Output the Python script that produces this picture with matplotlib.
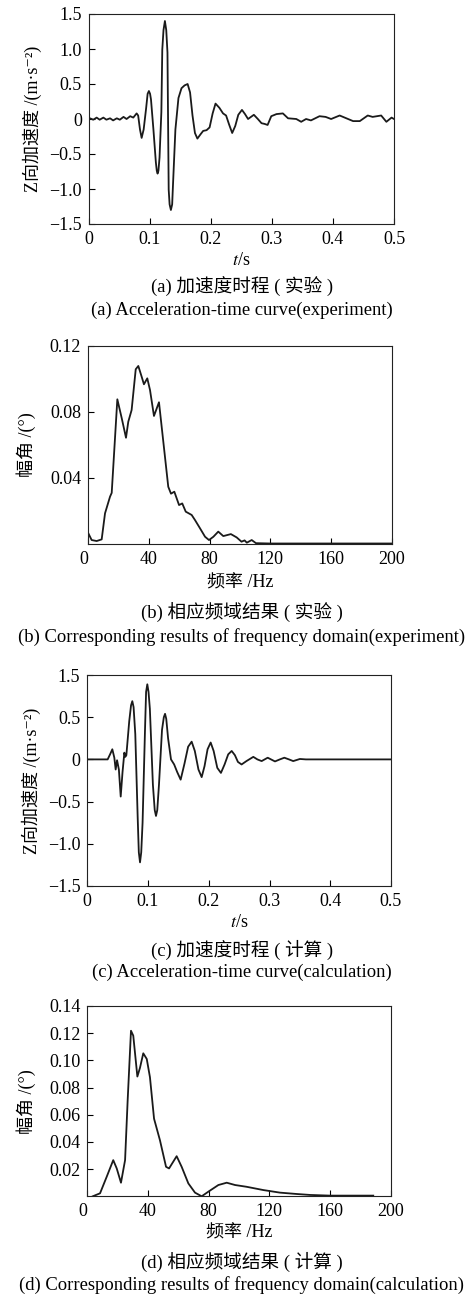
import matplotlib
matplotlib.use("Agg")
import matplotlib.pyplot as plt

plt.rcParams['font.family'] = ['Liberation Serif', 'Noto Sans CJK SC', 'DejaVu Sans']
plt.rcParams['mathtext.fontset'] = 'stix'
plt.rcParams['font.size'] = 13
plt.rcParams['axes.linewidth'] = 0.8

# (a) 加速度时程（实验）
t_exp = [0.0, 0.002, 0.0075, 0.013, 0.018, 0.024, 0.029, 0.035, 0.040, 0.046,
         0.051, 0.057, 0.062, 0.068, 0.073, 0.0785, 0.081, 0.084, 0.0867, 0.090,
         0.094, 0.0965, 0.0986, 0.1005, 0.102, 0.106, 0.110, 0.1115, 0.1128, 0.1142,
         0.116, 0.119, 0.1205, 0.1225, 0.1248, 0.127, 0.129, 0.131, 0.1325, 0.1346,
         0.1367, 0.138, 0.142, 0.147, 0.152, 0.157, 0.162, 0.166, 0.170, 0.174,
         0.178, 0.183, 0.1875, 0.193, 0.198, 0.203, 0.2077, 0.214, 0.220, 0.225,
         0.230, 0.235, 0.240, 0.245, 0.251, 0.256, 0.261, 0.2705, 0.277, 0.283,
         0.288, 0.293, 0.299, 0.3075, 0.318, 0.3265, 0.34, 0.348, 0.356, 0.364,
         0.378, 0.388, 0.397, 0.411, 0.422, 0.433, 0.444, 0.457, 0.465, 0.479,
         0.4875, 0.496, 0.5]
acc_exp = [0.0, 0.01, -0.01, 0.02, -0.01, 0.02, -0.01, 0.01, -0.02, 0.01,
           -0.01, 0.03, 0.0, 0.04, 0.02, 0.08, 0.05, -0.15, -0.27, -0.15,
           0.15, 0.36, 0.40, 0.36, 0.28, -0.15, -0.62, -0.74, -0.78, -0.74,
           -0.55, 0.10, 0.99, 1.27, 1.40, 1.27, 0.95, -1.01, -1.22, -1.30,
           -1.22, -0.95, -0.15, 0.30, 0.44, 0.48, 0.50, 0.38, 0.05, -0.20,
           -0.28, -0.22, -0.17, -0.16, -0.12, 0.08, 0.22, 0.16, 0.08, 0.05,
           -0.08, -0.20, -0.10, 0.06, 0.13, 0.07, 0.0, 0.06, 0.0, -0.06,
           -0.07, -0.085, 0.04, 0.07, 0.08, 0.01, 0.0, -0.04, 0.0, -0.02,
           0.04, 0.03, 0.0, 0.05, 0.01, -0.03, -0.03, 0.05, 0.03, 0.05,
           -0.04, 0.02, 0.0]

# (b) 相应频域结果（实验）
f_exp = [0, 2.4, 5.7, 9, 11.2, 14.5, 15.6, 19.3, 22.2, 25, 26.5, 28.7, 31.4, 33.1,
         35.3, 36.8, 39, 40.8, 43.4, 46.7, 52.8, 54.6, 56.8, 59.9, 62, 64.3, 68.2,
         70.4, 73.7, 77, 79.6, 82.5, 85.7, 89, 94, 97.8, 101, 103, 104.5, 107.7,
         110.5, 120, 140, 160, 180, 200]
amp_exp = [0.0069, 0.0024, 0.0018, 0.0028, 0.0186, 0.0287, 0.031, 0.0877, 0.0762,
           0.0644, 0.0741, 0.0812, 0.1059, 0.1079, 0.1014, 0.0968, 0.1004, 0.0933,
           0.0776, 0.0859, 0.0347, 0.0305, 0.0317, 0.0236, 0.0246, 0.0196, 0.0176,
           0.0145, 0.0095, 0.0044, 0.0024, 0.0044, 0.0075, 0.0048, 0.006, 0.004,
           0.0014, 0.0022, 0.0008, 0.0024, 0.0005, 0.0003, 0.0003, 0.0003, 0.0003,
           0.0003]

# (c) 加速度时程（计算）
t_cal = [0.0, 0.0335, 0.0375, 0.0412, 0.0445, 0.0467, 0.049, 0.052, 0.055, 0.058,
         0.061, 0.0625, 0.0643, 0.069, 0.072, 0.0741, 0.0762, 0.079, 0.083, 0.0848,
         0.0868, 0.0888, 0.091, 0.095, 0.0968, 0.0988, 0.1008, 0.103, 0.108, 0.111,
         0.1131, 0.1152, 0.118, 0.123, 0.126, 0.128, 0.130, 0.133, 0.1378, 0.143,
         0.148, 0.1537, 0.160, 0.166, 0.1718, 0.177, 0.183, 0.1883, 0.193, 0.198,
         0.2031, 0.208, 0.214, 0.220, 0.226, 0.232, 0.2377, 0.243, 0.248, 0.254,
         0.262, 0.2733, 0.28, 0.287, 0.297, 0.309, 0.317, 0.3244, 0.332, 0.339,
         0.35, 0.36, 0.4, 0.45, 0.5]
acc_cal = [0.0, 0.0, 0.06, 0.12, 0.02, -0.12, -0.01, -0.12, -0.44, -0.15,
           0.08, 0.03, 0.05, 0.45, 0.64, 0.69, 0.62, 0.30, -0.70, -1.10,
           -1.22, -1.10, -0.75, 0.35, 0.80, 0.89, 0.80, 0.60, -0.30, -0.60,
           -0.67, -0.60, -0.30, 0.35, 0.50, 0.54, 0.48, 0.25, 0.0, -0.06,
           -0.15, -0.24, -0.05, 0.15, 0.21, 0.10, -0.12, -0.21, -0.08, 0.12,
           0.20, 0.10, -0.10, -0.16, -0.06, 0.06, 0.10, 0.05, -0.03, -0.06,
           -0.02, 0.03, 0.0, -0.02, 0.02, -0.024, 0.0, 0.02, 0.0, -0.02,
           0.005, 0.0, 0.0, 0.0, 0.0]

# (d) 相应频域结果（计算）
f_cal = [3.6, 8.4, 12.8, 17.1, 19.4, 22.2, 24.9, 26.6, 28.8, 30.3, 33, 34.7, 36.9,
         39.2, 41.3, 44, 47.9, 51.9, 53.9, 58.9, 62.2, 66.6, 71, 75.4, 79.8, 86.4,
         91.9, 97.4, 105, 116, 127, 138, 146.8, 160, 188.5]
amp_cal = [0.0, 0.0022, 0.0144, 0.0266, 0.0205, 0.010, 0.0266, 0.0705, 0.1218,
           0.1182, 0.0881, 0.0944, 0.1052, 0.101, 0.0876, 0.0571, 0.0412, 0.0217,
           0.0205, 0.0295, 0.0217, 0.0095, 0.0027, 0.0, 0.0034, 0.0083, 0.010,
           0.0083, 0.007, 0.0046, 0.0027, 0.0017, 0.001, 0.0005, 0.0005]

W, H = 472, 1296
fig = plt.figure(figsize=(W / 100, H / 100), dpi=100)


def add_ax(left, top, right, bottom):
    return fig.add_axes([left / W, 1 - bottom / H, (right - left) / W, (bottom - top) / H])


def style(ax):
    ax.tick_params(direction='in', length=4, width=0.8, top=False, right=False, pad=5)
    for s in ax.spines.values():
        s.set_color('#222222')


def caption(y, text):
    fig.text(242 / W, 1 - y / H, text, ha='center', va='center', fontsize=13.4)


line_kw = dict(color='#1a1a1a', lw=1.3)
acc_label = 'Z向加速度 /(m·s\u207b\u00b2)'

# (a)
ax = add_ax(88.7, 14, 394, 224)
ax.plot(t_exp, acc_exp, **line_kw)
ax.set_xlim(0, 0.5)
ax.set_ylim(-1.5, 1.5)
ax.set_xticks([0, 0.1, 0.2, 0.3, 0.4, 0.5])
ax.set_xticklabels(['0', '0.1', '0.2', '0.3', '0.4', '0.5'])
ax.set_yticks([-1.5, -1.0, -0.5, 0, 0.5, 1.0, 1.5])
ax.set_yticklabels(['\u22121.5', '\u22121.0', '\u22120.5', '0', '0.5', '1.0', '1.5'])
ax.set_ylabel(acc_label, labelpad=5)
ax.set_xlabel('$t$/s', labelpad=3)
style(ax)
caption(287, '(a) 加速度时程 ( 实验 )')
caption(310, '(a) Acceleration-time curve(experiment)')

# (b)
ax = add_ax(88, 346, 392, 544)
ax.plot(f_exp, amp_exp, **line_kw)
ax.set_xlim(0, 200)
ax.set_ylim(0, 0.12)
ax.set_xticks([0, 40, 80, 120, 160, 200])
ax.set_xticklabels(['0', '40', '80', '120', '160', '200'])
ax.get_xticklabels()[0].set_ha('right')
ax.set_yticks([0.04, 0.08, 0.12])
ax.set_yticklabels(['0.04', '0.08', '0.12'])
ax.set_ylabel('幅角 /(°)', labelpad=10)
ax.set_xlabel('频率 /Hz', labelpad=5)
style(ax)
caption(613, '(b) 相应频域结果 ( 实验 )')
caption(637, '(b) Corresponding results of frequency domain(experiment)')

# (c)
ax = add_ax(87.3, 675, 391, 886)
ax.plot(t_cal, acc_cal, **line_kw)
ax.set_xlim(0, 0.5)
ax.set_ylim(-1.5, 1.0)
ax.set_xticks([0, 0.1, 0.2, 0.3, 0.4, 0.5])
ax.set_xticklabels(['0', '0.1', '0.2', '0.3', '0.4', '0.5'])
ax.set_yticks([-1.5, -1.0, -0.5, 0, 0.5, 1.0])
ax.set_yticklabels(['\u22121.5', '\u22121.0', '\u22120.5', '0', '0.5', '1.5'])
ax.set_ylabel(acc_label, labelpad=5)
ax.set_xlabel('$t$/s', labelpad=3)
style(ax)
caption(950, '(c) 加速度时程 ( 计算 )')
caption(972, '(c) Acceleration-time curve(calculation)')

# (d)
ax = add_ax(87.3, 1006, 390.7, 1196.3)
ax.plot(f_cal, amp_cal, **line_kw)
ax.set_xlim(0, 200)
ax.set_ylim(0, 0.14)
ax.set_xticks([0, 40, 80, 120, 160, 200])
ax.set_xticklabels(['0', '40', '80', '120', '160', '200'])
ax.get_xticklabels()[0].set_ha('right')
ax.set_yticks([0.02, 0.04, 0.06, 0.08, 0.10, 0.12, 0.14])
ax.set_yticklabels(['0.02', '0.04', '0.06', '0.08', '0.10', '0.12', '0.14'])
ax.set_ylabel('幅角 /(°)', labelpad=9)
ax.set_xlabel('频率 /Hz', labelpad=3)
style(ax)
caption(1262, '(d) 相应频域结果 ( 计算 )')
caption(1285, '(d) Corresponding results of frequency domain(calculation)')

fig.savefig('out.png', dpi=100)
